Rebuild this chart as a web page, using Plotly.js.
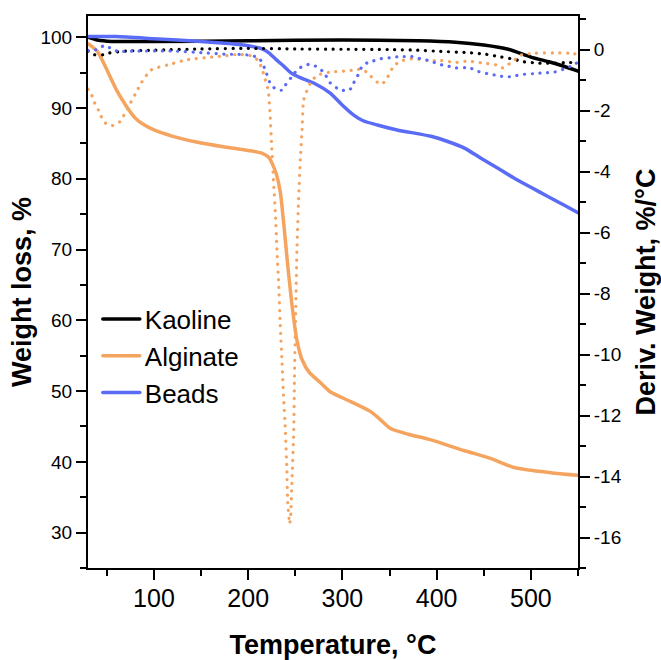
<!DOCTYPE html>
<html>
<head>
<meta charset="utf-8">
<script src="https://cdn.plot.ly/plotly-3.0.1.min.js"></script>
<style>
html,body{margin:0;padding:0;background:#fff;}
.js-line{stroke-linecap:round !important;}
</style>
</head>
<body>
<div id="chart" style="width:661px;height:660px;"></div>
<script>
// ---- Weight loss (left axis, solid lines) ----
const tempKaoline = [30,40,55,100,200,300,380,420,450,476,500,520,535,550];
const weightKaoline = [100,99.6,99.4,99.4,99.5,99.6,99.5,99.3,98.9,98.3,97.2,96.5,95.9,95.2];

const tempAlginate = [30,40,50,60,70,80,90,100,120,145,175,200,215,222,226,230,234,238,242,246,249,252,257,265,275,287,309,330,340,351,370,394,429,457,482,500,525,550];
const weightAlginate = [99.1,98.0,95.4,92.6,90.4,88.6,87.6,86.9,86.0,85.2,84.5,84.0,83.6,83.0,82.0,80.6,78.2,73.3,67.7,62.7,59.5,57.0,54.5,52.6,51.4,49.9,48.5,47.1,46.0,44.7,43.9,43.1,41.6,40.5,39.2,38.8,38.4,38.1];

const tempBeads = [30,60,100,150,180,200,216,222,230,237,245,255,270,287,300,312,322,337,358,394,411,430,447,465,482,500,518,535,550];
const weightBeads = [100.1,100.1,99.8,99.4,99.1,98.8,98.3,97.8,96.8,96.0,95.0,94.3,93.5,92.1,90.4,89.0,88.2,87.6,86.9,86.0,85.3,84.3,82.9,81.5,80.1,78.8,77.5,76.3,75.2];

// ---- Derivative weight (right axis, dotted lines) ----
const dTempKaoline = [30,37,46,53,70,100,150,200,250,300,350,380,404,432,453,468,482,492,505,518,535,550];
const derivKaoline = [-0.05,-0.17,-0.17,-0.11,-0.05,-0.02,0.02,0.04,0.02,0.01,0.0,-0.02,-0.06,-0.1,-0.16,-0.24,-0.32,-0.4,-0.44,-0.45,-0.43,-0.42];

const dTempAlginate = [30,34,37,41,44,48,55,64,72,80,87,97,115,136,161,177,191,205,211,215,218,221,223,225,227,229,230.5,232.3,234,236,237.5,239.4,241,242,244,245,246.5,248.4,249.1,250.4,251.8,253.5,255.3,257,259,263,266,273,287,305,316,322,330,337,342,348,355,364,376,390,404,420,434,448,464,470,480,490,505,525,540,550];
const derivAlginate = [-1.3,-1.5,-1.75,-1.98,-2.2,-2.4,-2.5,-2.36,-1.92,-1.47,-1.07,-0.67,-0.5,-0.33,-0.25,-0.2,-0.16,-0.22,-0.38,-0.66,-0.98,-1.3,-2.0,-3.2,-4.37,-5.46,-6.55,-7.64,-9.0,-10.3,-11.36,-12.45,-13.76,-14.85,-15.55,-15.3,-14.1,-12.45,-10.8,-8.6,-6.5,-4.91,-3.6,-2.73,-1.64,-1.3,-1.1,-0.85,-0.74,-0.7,-0.65,-0.66,-0.87,-1.07,-1.13,-0.9,-0.52,-0.36,-0.3,-0.36,-0.36,-0.42,-0.38,-0.44,-0.51,-0.6,-0.4,-0.18,-0.12,-0.11,-0.12,-0.15];

const dTempBeads = [30,38,45,48,54,62,80,120,150,175,190,202,211,215,218,224,230,236,241,247,252,259,266,273,280,287,294,301,307.5,312,316,320,326,333,341,350,358,365,373,380,390,397,405,413,420,435,443,457,466,474,482,490,503,515,525,534,542,546,550];
const derivBeads = [-0.03,-0.01,0.1,0.15,0.04,-0.06,-0.05,-0.05,-0.1,-0.15,-0.16,-0.19,-0.27,-0.44,-0.66,-1.15,-1.31,-1.33,-1.09,-0.87,-0.66,-0.53,-0.48,-0.57,-0.74,-1.09,-1.26,-1.34,-1.33,-1.09,-0.87,-0.6,-0.44,-0.37,-0.3,-0.27,-0.24,-0.23,-0.23,-0.28,-0.35,-0.42,-0.5,-0.55,-0.6,-0.6,-0.71,-0.81,-0.86,-0.9,-0.87,-0.82,-0.79,-0.76,-0.74,-0.65,-0.55,-0.47,-0.43];

const seriesNames = ['Kaoline','Alginate','Beads'];
const derivTickVals = [0,-2,-4,-6,-8,-10,-12,-14,-16];
const derivTickText = ['0','-2','-4','-6','-8','-10','-12','-14','-16'];

const colors = {Kaoline:'#000000', Alginate:'#F5A460', Beads:'#5A6CF5'};
const dotDash = '0.1px,7.6px';

function solid(name, x, y){
  return {type:'scatter', mode:'lines', name:name, x:x, y:y, xaxis:'x', yaxis:'y',
    line:{color:colors[name], width:3.5, shape:'spline', smoothing:0.6}, hoverinfo:'skip'};
}
function dotted(name, x, y){
  return {type:'scatter', mode:'lines', name:name+' deriv', x:x, y:y, xaxis:'x', yaxis:'y2', showlegend:false,
    line:{color:colors[name], width:3.2, dash:dotDash, shape:'spline', smoothing:0.6}, hoverinfo:'skip'};
}

const data = [
  dotted('Kaoline', dTempKaoline, derivKaoline),
  dotted('Alginate', dTempAlginate, derivAlginate),
  dotted('Beads', dTempBeads, derivBeads),
  solid('Kaoline', tempKaoline, weightKaoline),
  solid('Alginate', tempAlginate, weightAlginate),
  solid('Beads', tempBeads, weightBeads)
];

const axisCommon = {
  ticks:'outside', ticklen:10, tickwidth:2, tickcolor:'#000',
  showline:true, linecolor:'#000', linewidth:2,
  showgrid:false, zeroline:false
};

const layout = {
  width:661, height:660,
  margin:{l:88, r:83, t:16, b:92},
  paper_bgcolor:'#fff', plot_bgcolor:'#fff',
  font:{family:'Liberation Sans, Arial, sans-serif', color:'#000'},
  showlegend:true,
  legend:{x:0.02, xanchor:'left', y:0.384, yanchor:'middle', font:{size:26, color:'#000'},
    bgcolor:'rgba(0,0,0,0)', borderwidth:0, itemwidth:37, tracegroupgap:0},
  xaxis:Object.assign({}, axisCommon, {
    range:[30,550], tickmode:'linear', tick0:0, dtick:100, mirror:true,
    tickfont:{size:25}, ticklabelstandoff:-3,
    minor:{tickmode:'linear', tick0:0, dtick:50, ticks:'outside', ticklen:6, tickwidth:2, tickcolor:'#000', showgrid:false},
    title:{text:'Temperature, °C', font:{size:27, weight:'bold'}, standoff:25}
  }),
  yaxis:Object.assign({}, axisCommon, {
    range:[25,103], tickmode:'linear', tick0:0, dtick:10,
    tickfont:{size:19},
    minor:{tickmode:'linear', tick0:0, dtick:5, ticks:'outside', ticklen:6, tickwidth:2, tickcolor:'#000', showgrid:false},
    title:{text:'Weight loss, %', font:{size:27, weight:'bold'}, standoff:1}
  }),
  yaxis2:Object.assign({}, axisCommon, {
    overlaying:'y', side:'right', anchor:'x',
    range:[-17,1.1], tickmode:'array', tickvals:derivTickVals, ticktext:derivTickText,
    tickfont:{size:19},
    minor:{tickmode:'linear', tick0:0, dtick:1, ticks:'outside', ticklen:6, tickwidth:2, tickcolor:'#000', showgrid:false},
    title:{text:'Deriv. Weight, %/°C', font:{size:27, weight:'bold'}, standoff:15}
  })
};

Plotly.newPlot('chart', data, layout, {staticPlot:true, displayModeBar:false});
</script>
</body>
</html>
